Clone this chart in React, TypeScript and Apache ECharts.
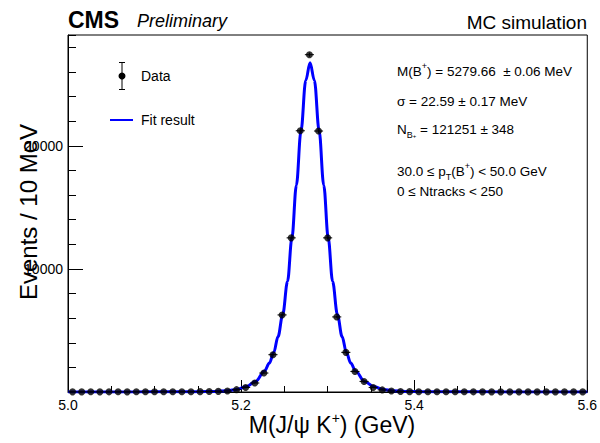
import React, { useEffect, useRef } from "react";
import * as echarts from "echarts";

// ---- data ----
const BIN_LO = 5.0;
const BIN_HI = 5.6;
const N_BINS = 57;
const COUNTS = [
  12, 10, 14, 11, 13, 15, 12, 16, 14, 18,
  17, 20, 22, 25, 30, 38, 52, 80, 190, 370,
  730, 1540, 3030, 6260, 12520, 21220, 27400, 21200, 12520, 6100,
  3220, 1670, 860, 370, 170, 80, 45, 30, 24, 20,
  18, 16, 15, 14, 13, 12, 12, 11, 10, 11,
  10, 9, 10, 9, 8, 9, 8,
];
const FIT_MASS = [
  5.0, 5.08, 5.1, 5.1497, 5.1697, 5.1847, 5.1947, 5.2057, 5.2167, 5.2271,
  5.2327, 5.2377, 5.2427, 5.2481, 5.2537, 5.2587, 5.2639, 5.2692, 5.2747, 5.2797,
  5.2847, 5.2902, 5.2955, 5.3007, 5.3057, 5.3113, 5.3167, 5.3217, 5.3267, 5.3323,
  5.3427, 5.3537, 5.3647, 5.3747, 5.3897, 5.4097, 5.4597, 5.5, 5.6,
];
const FIT_VALUES = [
  8, 10, 12, 25, 50, 110, 200, 420, 850, 1700,
  2350, 3200, 4500, 6300, 9000, 12500, 16800, 21200, 25300, 26750,
  25300, 21200, 16800, 12500, 9000, 6300, 4500, 3200, 2350, 1700,
  850, 420, 200, 110, 50, 25, 12, 10, 8,
];
const X_TICKS = { min: 5.0, max: 5.6, step: 0.2 };
const Y_TICKS = { min: 0, max: 29000, step: 10000, minorStep: 2000 };
const RESULT_LINES = {
  mass: "5279.66  ± 0.06 MeV",
  sigma: "σ = 22.59 ± 0.17 MeV",
  yield: " = 121251 ± 348",
  pt: ["30.0 ≤ p", "T", "(B", "+", ") < 50.0 GeV"],
  ntracks: "0 ≤ Ntracks < 250",
};

const FONT = "'Liberation Sans', Arial, Helvetica, sans-serif";

export default function App() {
  const ref = useRef<HTMLDivElement>(null);
  useEffect(() => {
    if (!ref.current) return;
    const chart = echarts.init(ref.current, null, { renderer: "svg" });
    const binW = (BIN_HI - BIN_LO) / N_BINS;
    const centers = COUNTS.map((_, k) => BIN_LO + (k + 0.5) * binW);
    const pts = COUNTS.map((c, k) => [centers[k], c]);
    const errPts = COUNTS.map((c, k) => [centers[k], c, Math.sqrt(c)]);
    const fit = FIT_MASS.map((m, i) => [m, FIT_VALUES[i]]);

    const rich = {
      t: { fontSize: 13.5, fontFamily: FONT, color: "#000", lineHeight: 20 },
      sup: { fontSize: 9, fontFamily: FONT, color: "#000", lineHeight: 9, verticalAlign: "top" },
      sub: { fontSize: 9, fontFamily: FONT, color: "#000", lineHeight: 9, verticalAlign: "bottom" },
      subsup: { fontSize: 6, fontFamily: FONT, color: "#000", lineHeight: 12, verticalAlign: "bottom" },
    };

    const txt = (x: number, y: number, text: string, extra: any = {}) => ({
      type: "text",
      x,
      y,
      silent: true,
      style: {
        text,
        fill: "#000",
        font: `14px ${FONT}`,
        align: "left",
        verticalAlign: "middle",
        ...extra,
      },
    });

    chart.setOption({
      animation: false,
      grid: {
        left: 68,
        right: 9,
        top: 35,
        bottom: 51,
        show: true,
        borderColor: "#000",
        borderWidth: 1,
        backgroundColor: "transparent",
      },
      xAxis: {
        type: "value",
        min: X_TICKS.min,
        max: X_TICKS.max,
        interval: X_TICKS.step,
        axisLine: { show: true, lineStyle: { color: "#000", width: 1 } },
        axisTick: { show: true, inside: true, length: 12, lineStyle: { color: "#000" } },
        minorTick: { show: true, splitNumber: 4, length: 6, lineStyle: { color: "#000" } },
        axisLabel: {
          color: "#000",
          fontSize: 14,
          fontFamily: FONT,
          margin: 6,
          formatter: (v: number) => v.toFixed(1),
        },
        splitLine: { show: false },
        minorSplitLine: { show: false },
      },
      yAxis: [
        {
          type: "value",
          min: Y_TICKS.min,
          max: Y_TICKS.max,
          interval: Y_TICKS.step,
          axisLine: { show: true, lineStyle: { color: "#000", width: 1 } },
          axisTick: { show: true, inside: true, length: 15, lineStyle: { color: "#000" } },
          axisLabel: {
            color: "#000",
            fontSize: 14,
            fontFamily: FONT,
            margin: 5,
            showMaxLabel: false,
            formatter: (v: number) => (v === 0 ? "" : String(v)),
          },
          splitLine: { show: false },
        },
        {
          type: "value",
          position: "left",
          min: Y_TICKS.min,
          max: Y_TICKS.max,
          interval: Y_TICKS.minorStep,
          axisLine: { show: false },
          axisTick: { show: true, inside: true, length: 8, lineStyle: { color: "#000" } },
          axisLabel: { show: false },
          splitLine: { show: false },
        },
      ],
      series: [
        {
          type: "line",
          data: fit,
          showSymbol: false,
          smooth: 0.35,
          smoothMonotone: "x",
          lineStyle: { color: "#0000ff", width: 3 },
          z: 2,
          silent: true,
        },
        {
          type: "custom",
          data: errPts,
          encode: { x: 0, y: 1 },
          z: 3,
          silent: true,
          renderItem: (_p: any, api: any) => {
            const x = api.value(0);
            const y = api.value(1);
            const e = api.value(2);
            const l = api.coord([x - binW / 2, y]);
            const r = api.coord([x + binW / 2, y]);
            const t = api.coord([x, y + e]);
            const b = api.coord([x, Math.max(0, y - e)]);
            return {
              type: "group",
              children: [
                { type: "line", shape: { x1: l[0], y1: l[1], x2: r[0], y2: r[1] }, style: { stroke: "#000", lineWidth: 1 } },
                { type: "line", shape: { x1: t[0], y1: t[1], x2: b[0], y2: b[1] }, style: { stroke: "#000", lineWidth: 1 } },
              ],
            };
          },
        },
        {
          type: "scatter",
          data: pts,
          symbol: "circle",
          symbolSize: 7,
          itemStyle: { color: "#000" },
          z: 4,
          silent: true,
        },
      ],
      graphic: [
        // header
        txt(68, 19.5, "CMS", { font: `bold 23px ${FONT}` }),
        txt(137, 20.5, "Preliminary", { font: `italic 18px ${FONT}` }),
        txt(587, 22, "MC simulation", { font: `19px ${FONT}`, align: "right" }),
        // legend
        { type: "line", silent: true, shape: { x1: 122, y1: 62.5, x2: 122, y2: 89.5 }, style: { stroke: "#000", lineWidth: 1 } },
        { type: "line", silent: true, shape: { x1: 119, y1: 62.5, x2: 125, y2: 62.5 }, style: { stroke: "#000", lineWidth: 1 } },
        { type: "line", silent: true, shape: { x1: 119, y1: 89.5, x2: 125, y2: 89.5 }, style: { stroke: "#000", lineWidth: 1 } },
        { type: "circle", silent: true, shape: { cx: 122, cy: 76, r: 3.5 }, style: { fill: "#000" } },
        txt(141, 76, "Data"),
        { type: "line", silent: true, shape: { x1: 110, y1: 120, x2: 133, y2: 120 }, style: { stroke: "#0000ff", lineWidth: 2 } },
        txt(141, 120, "Fit result"),
        // fit results
        txt(397, 71.7, `{t|M(B}{sup|+}{t|) = ${RESULT_LINES.mass}}`, { rich }),
        txt(397, 101, `{t|${RESULT_LINES.sigma}}`, { rich }),
        txt(397, 129.3, `{t|N}{sub|B}{subsup|+}{t|${RESULT_LINES.yield}}`, { rich }),
        txt(
          397,
          171,
          `{t|${RESULT_LINES.pt[0]}}{sub|${RESULT_LINES.pt[1]}}{t|${RESULT_LINES.pt[2]}}{sup|${RESULT_LINES.pt[3]}}{t|${RESULT_LINES.pt[4]}}`,
          { rich }
        ),
        txt(397, 191.7, `{t|${RESULT_LINES.ntracks}}`, { rich }),
        // axis titles
        {
          type: "text",
          silent: true,
          x: 332,
          y: 425,
          style: {
            text: "{a|M(J/ψ K}{s|+}{a|) (GeV)}",
            align: "center",
            verticalAlign: "middle",
            rich: {
              a: { fontSize: 23, fontFamily: FONT, color: "#000", lineHeight: 28 },
              s: { fontSize: 14, fontFamily: FONT, color: "#000", lineHeight: 14, verticalAlign: "top" },
            },
          },
        },
        {
          type: "text",
          silent: true,
          x: 28,
          y: 212,
          rotation: Math.PI / 2,
          style: {
            text: "Events / 10 MeV",
            font: `24px ${FONT}`,
            fill: "#000",
            align: "center",
            verticalAlign: "middle",
          },
        },
      ],
    });
    return () => chart.dispose();
  }, []);
  return (
    <div
      ref={ref}
      style={{ position: "absolute", left: 0, top: 0, width: 600, height: 443, background: "#fff" }}
    />
  );
}
